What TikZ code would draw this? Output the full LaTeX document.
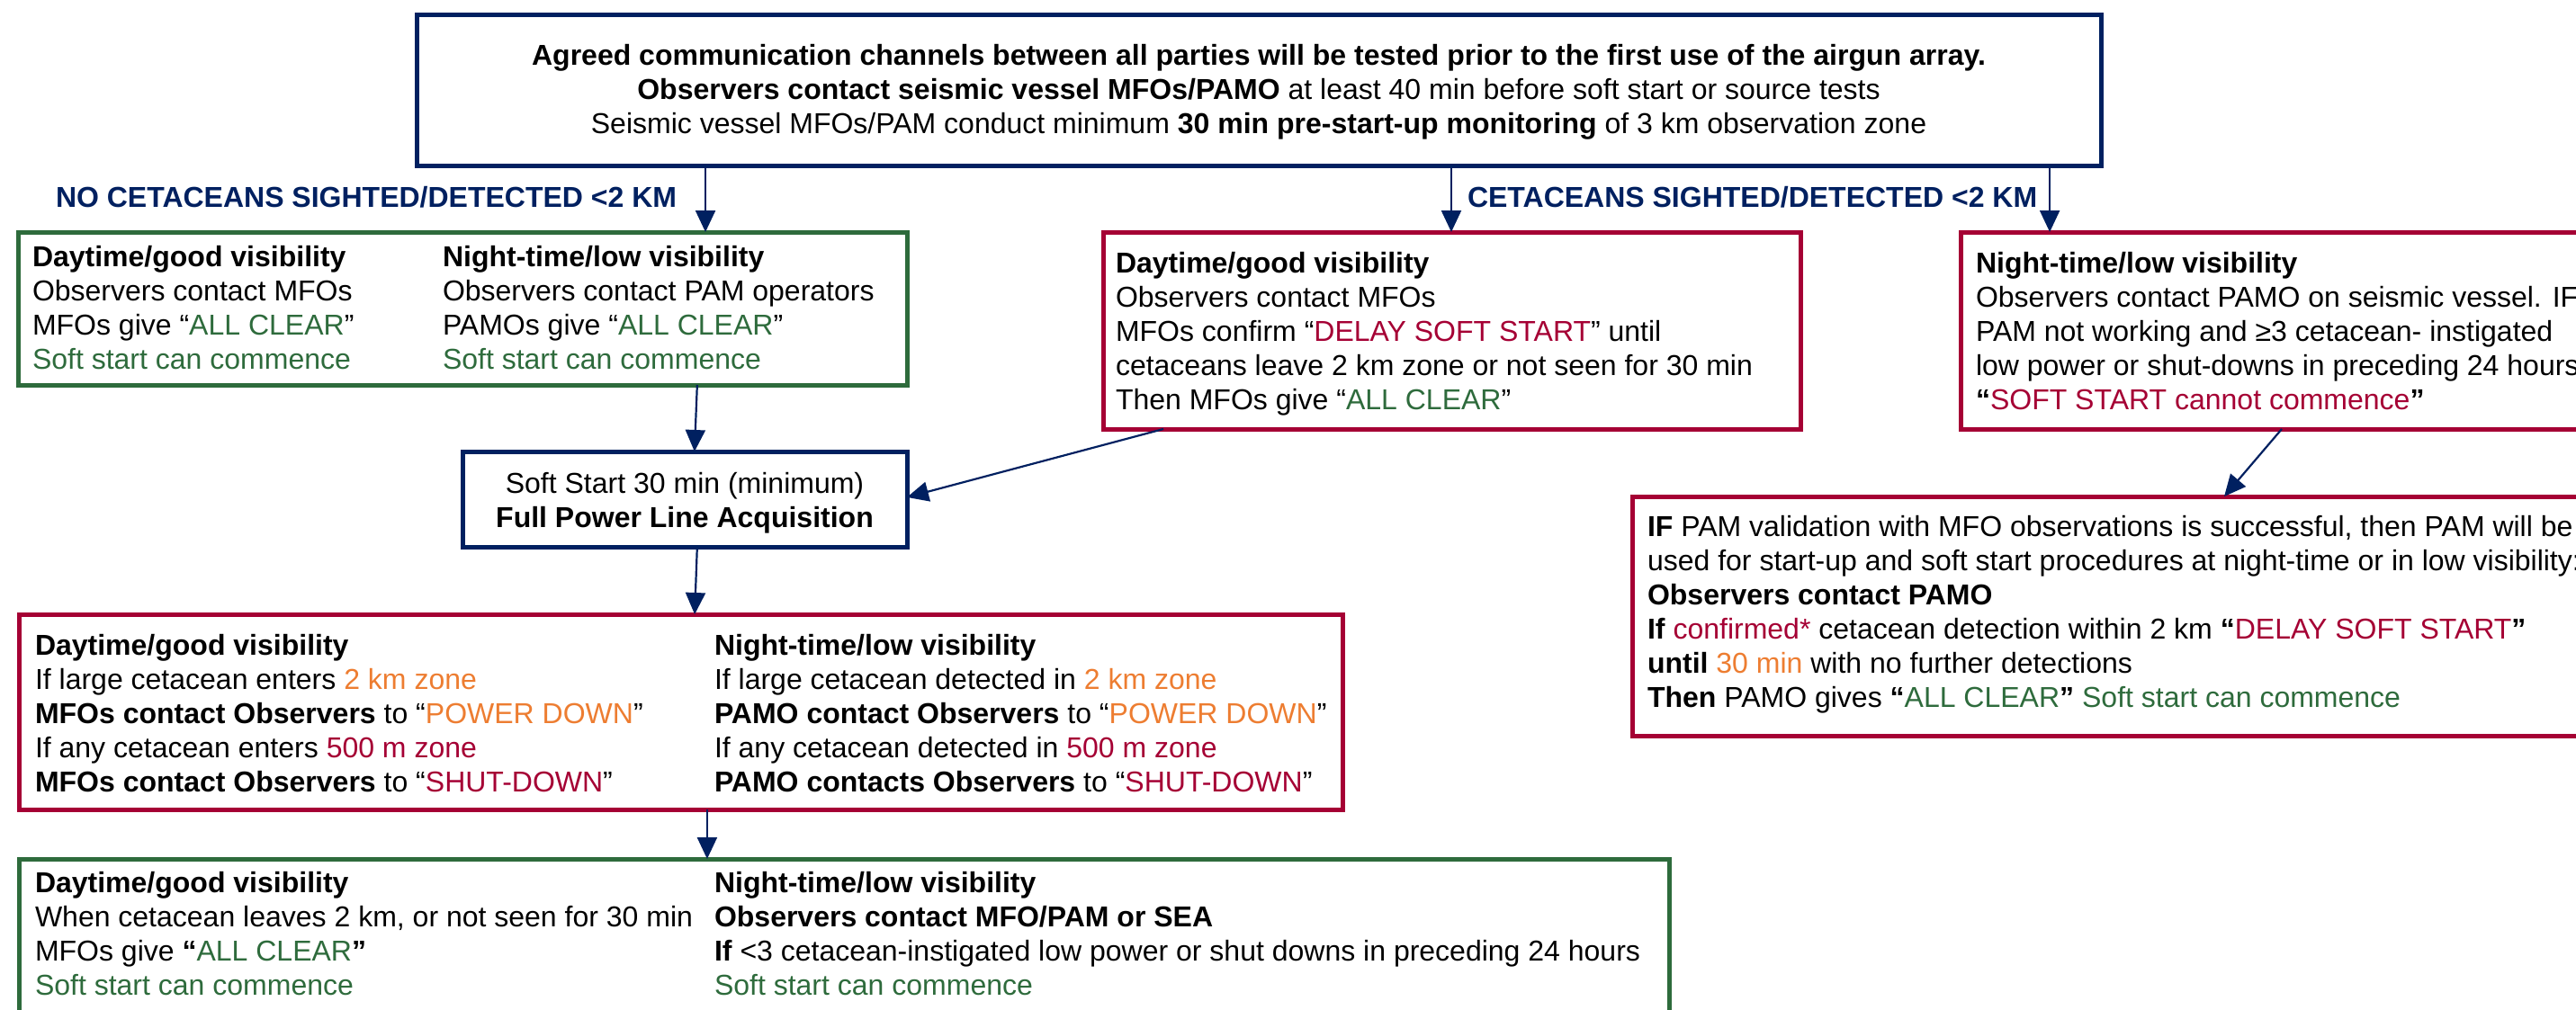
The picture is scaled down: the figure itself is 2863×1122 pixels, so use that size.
\documentclass[tikz,border=0pt]{standalone}
\usepackage{fontspec}
\setmainfont{Liberation Sans}
\usetikzlibrary{arrows.meta,calc}

\definecolor{navy}{HTML}{002060}
\definecolor{crim}{HTML}{A50034}
\definecolor{leaf}{HTML}{2E6B3C}
\definecolor{amber}{HTML}{ED7D31}

\newcommand{\cgreen}[1]{\textcolor{leaf}{#1}}
\newcommand{\cred}[1]{\textcolor{crim}{#1}}
\newcommand{\corange}[1]{\textcolor{amber}{#1}}
% top-aligned text blocks: the node's base is the first line's baseline
\newcommand{\txtblock}[1]{\parbox[t]{1400pt}{#1}}
\newcommand{\ctrblock}[2]{\parbox[t]{#1}{\centering #2}}

\begin{document}
\begin{tikzpicture}[x=1pt,y=-1pt,
  every node/.style={font=\fontsize{32}{38}\selectfont, inner sep=0pt, outer sep=0pt},
  frame/.style={draw, line width=5pt, rectangle, anchor=north west, inner sep=0pt},
  navyframe/.style={frame, draw=navy},
  redframe/.style={frame, draw=crim},
  greenframe/.style={frame, draw=leaf},
  words/.style={anchor=base west},
  branch/.style={anchor=base west, text=navy, font=\fontsize{32}{38}\selectfont\bfseries},
  arr/.style={draw=navy, line width=2.2pt, -{Triangle[length=24pt,width=22pt]}}
]
\useasboundingbox (0,0) rectangle (2863,1122);
\clip (0,0) rectangle (2863,1122);

% ---------- boxes ----------
\node[navyframe, minimum width=1872pt, minimum height=168pt] (top) at (463,16) {};
\node[greenframe, minimum width=988pt, minimum height=170pt] (g1) at (20,258) {};
\node[redframe, minimum width=775pt, minimum height=219pt] (mr) at (1226,258) {};
\node[redframe, minimum width=721pt, minimum height=219pt] (rr) at (2179,258) {};
\node[navyframe, minimum width=494pt, minimum height=106pt] (ss) at (514,502) {};
\node[redframe, minimum width=1086pt, minimum height=266pt] (rb) at (1814,552) {};
\node[redframe, minimum width=1471pt, minimum height=217pt] (r2) at (21,683) {};
\node[greenframe, minimum width=1834pt, minimum height=185pt] (g2) at (21,955) {};

% ---------- texts ----------
\node[anchor=base] (ttop) at (1399,72) {\ctrblock{1850pt}{%
  \textbf{Agreed communication channels between all parties will be tested prior to the first use of the airgun array.}\\
  \textbf{Observers contact seismic vessel MFOs/PAMO} at least 40 min before soft start or source tests\\
  Seismic vessel MFOs/PAM conduct minimum \textbf{30 min pre-start-up monitoring} of 3 km observation zone}};

\node[branch] (lno) at (62,230) {NO CETACEANS SIGHTED/DETECTED <2 KM};
\node[branch] (lyes) at (1631,230) {CETACEANS SIGHTED/DETECTED <2 KM};

\node[words] (g1a) at (36,296) {\txtblock{%
  \textbf{Daytime/good visibility}\\
  Observers contact MFOs\\
  MFOs give “\cgreen{ALL CLEAR}”\\
  \cgreen{Soft start can commence}}};
\node[words] (g1b) at (492,296) {\txtblock{%
  \textbf{Night-time/low visibility}\\
  Observers contact PAM operators\\
  PAMOs give “\cgreen{ALL CLEAR}”\\
  \cgreen{Soft start can commence}}};

\node[words] (mra) at (1240,303) {\txtblock{%
  \textbf{Daytime/good visibility}\\
  Observers contact MFOs\\
  MFOs confirm “\cred{DELAY SOFT START}” until\\
  cetaceans leave 2 km zone or not seen for 30 min\\
  Then MFOs give “\cgreen{ALL CLEAR}”}};

\node[words] (rra) at (2196,303) {\txtblock{%
  \textbf{Night-time/low visibility}\\
  Observers contact PAMO on seismic vessel. IF\\
  PAM not working and ≥3 cetacean- instigated\\
  low power or shut-downs in preceding 24 hours\\
  \textbf{“}\cred{SOFT START cannot commence}\textbf{”}}};

\node[anchor=base] (ssa) at (761,548) {\ctrblock{480pt}{%
  Soft Start 30 min (minimum)\\
  \textbf{Full Power Line Acquisition}}};

\node[words] (rba) at (1831,596) {\txtblock{%
  \textbf{IF} PAM validation with MFO observations is successful, then PAM will be\\
  used for start-up and soft start procedures at night-time or in low visibility:\\
  \textbf{Observers contact PAMO}\\
  \textbf{If} \cred{confirmed*} cetacean detection within 2 km \textbf{“}\cred{DELAY SOFT START}\textbf{”}\\
  \textbf{until} \corange{30 min} with no further detections\\
  \textbf{Then} PAMO gives \textbf{“}\cgreen{ALL CLEAR}\textbf{”} \cgreen{Soft start can commence}}};

\node[words] (r2a) at (39,728) {\txtblock{%
  \textbf{Daytime/good visibility}\\
  If large cetacean enters \corange{2 km zone}\\
  \textbf{MFOs contact Observers} to “\corange{POWER DOWN}”\\
  If any cetacean enters \cred{500 m zone}\\
  \textbf{MFOs contact Observers} to “\cred{SHUT-DOWN}”}};
\node[words] (r2b) at (794,728) {\txtblock{%
  \textbf{Night-time/low visibility}\\
  If large cetacean detected in \corange{2 km zone}\\
  \textbf{PAMO contact Observers} to “\corange{POWER DOWN}”\\
  If any cetacean detected in \cred{500 m zone}\\
  \textbf{PAMO contacts Observers} to “\cred{SHUT-DOWN}”}};

\node[words] (g2a) at (39,992) {\txtblock{%
  \textbf{Daytime/good visibility}\\
  When cetacean leaves 2 km, or not seen for 30 min\\
  MFOs give \textbf{“}\cgreen{ALL CLEAR}\textbf{”}\\
  \cgreen{Soft start can commence}}};
\node[words] (g2b) at (794,992) {\txtblock{%
  \textbf{Night-time/low visibility}\\
  \textbf{Observers contact MFO/PAM or SEA}\\
  \textbf{If} <3 cetacean-instigated low power or shut downs in preceding 24 hours\\
  \cgreen{Soft start can commence}}};

% ---------- connectors ----------
\coordinate (o1) at ($(top.south west)!0.1715!(top.south east)$);
\coordinate (o2) at ($(top.south west)!0.6143!(top.south east)$);
\coordinate (o3) at ($(top.south west)!0.9696!(top.south east)$);
\draw[arr] (o1) -- (o1 |- g1.north);
\draw[arr] (o2) -- (o2 |- mr.north);
\draw[arr] (o3) -- (o3 |- rr.north);

\draw[arr] ($(g1.south west)!0.764!(g1.south east)$) -- ($(ss.north west)!0.522!(ss.north east)$);
\draw[arr] ($(mr.south west)!0.0865!(mr.south east)$) -- ($(ss.north east)!0.48!(ss.south east)$);
\draw[arr] ($(ss.south west)!0.528!(ss.south east)$) -- ($(r2.north west)!0.5106!(r2.north east)$);
\coordinate (o4) at ($(r2.south west)!0.52!(r2.south east)$);
\draw[arr] (o4) -- (o4 |- g2.north);
\draw[arr] ($(rr.south west)!0.4951!(rr.south east)$) -- ($(rb.north west)!0.6059!(rb.north east)$);

\end{tikzpicture}
\end{document}
